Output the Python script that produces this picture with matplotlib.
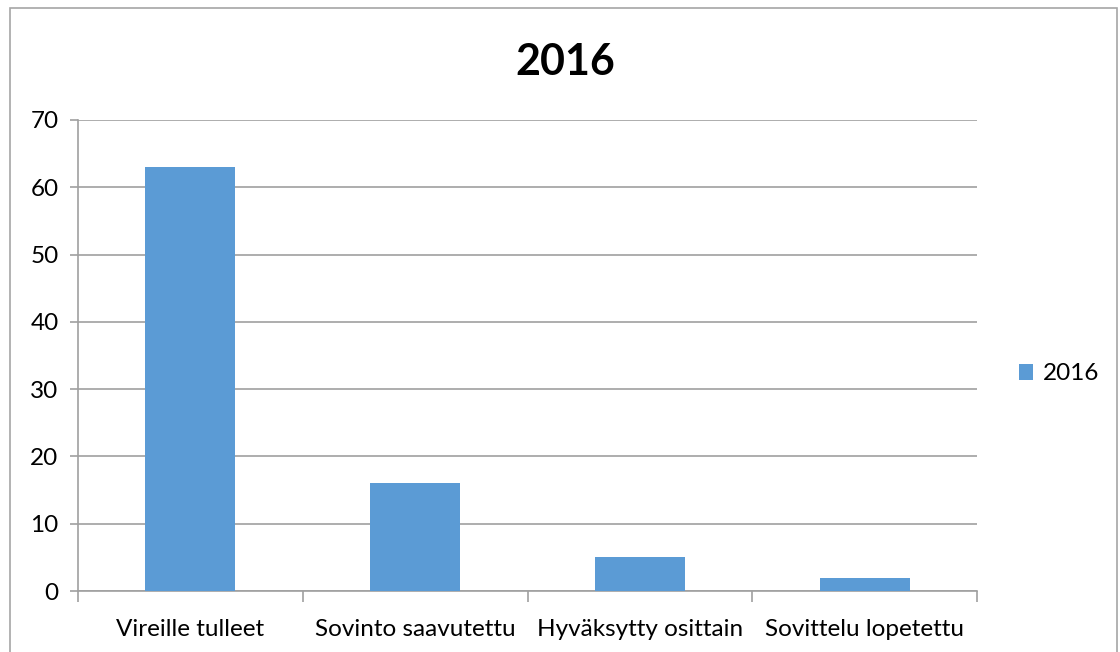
import numpy as np
import matplotlib.pyplot as plt
from matplotlib.patches import Rectangle

plt.rcParams['font.family'] = ['Lato', 'DejaVu Sans']

# data
categories = ['Vireille tulleet', 'Sovinto saavutettu', 'Hyväksytty osittain', 'Sovittelu lopetettu']
values = [63, 16, 5, 2]
series_name = '2016'
title = '2016'

fig = plt.figure(figsize=(11.2, 6.52), dpi=100)
# outer chart border
fig.patches.append(Rectangle((10/1120, -0.01), 1107/1120, 1 - 8/652 + 0.01,
                             transform=fig.transFigure, fill=False,
                             edgecolor='#A6A6A6', linewidth=1.2))

ax = fig.add_axes([78/1120, 1 - 591/652, (977 - 78)/1120, (591 - 120)/652])

x = np.arange(len(categories))
ax.bar(x, values, width=0.4, color='#5B9BD5', label=series_name, zorder=3)

ax.set_xlim(-0.5, len(categories) - 0.5)
ax.set_ylim(0, 70)
ax.set_yticks(np.arange(0, 71, 10))
ax.yaxis.grid(True, color='#A0A0A0', linewidth=1.2, zorder=0)

# category boundary ticks
ax.set_xticks(np.arange(-0.5, len(categories), 1), minor=False)
ax.set_xticklabels([])
ax.set_xticks(x, minor=True)
ax.set_xticklabels(categories, minor=True, fontsize=17.5)
ax.tick_params(axis='x', which='minor', length=0, pad=20)
ax.tick_params(axis='x', which='major', length=8, color='#A0A0A0', width=1.2)
ax.tick_params(axis='y', length=6, color='#A0A0A0', width=1.2, labelsize=17.5, pad=8)

for s in ['top', 'right']:
    ax.spines[s].set_visible(False)
for s in ['left', 'bottom']:
    ax.spines[s].set_color('#A0A0A0')
    ax.spines[s].set_linewidth(1.2)

fig.text(565/1120, 1 - 62/652, title, ha='center', va='center', fontsize=31, fontweight='bold')

fig.legend(loc='center left', bbox_to_anchor=(997/1120, 1 - 374/652), frameon=False,
           fontsize=17.5, handlelength=0.6, handleheight=0.6, handletextpad=0.4)

fig.savefig('out.png', dpi=100)
